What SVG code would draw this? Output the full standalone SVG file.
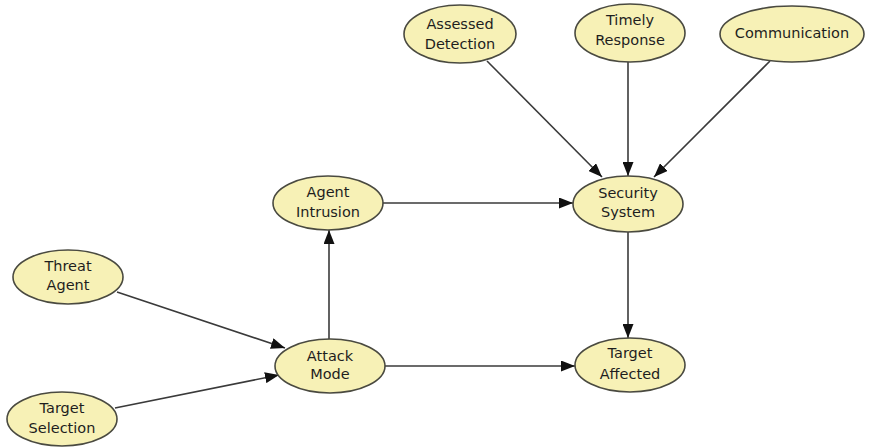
<svg xmlns="http://www.w3.org/2000/svg" width="870" height="448" viewBox="0 0 870 448">
  <defs>
    <marker id="arrow" viewBox="0 0 14 11" refX="14" refY="5.5" markerWidth="14" markerHeight="11" markerUnits="userSpaceOnUse" orient="auto">
      <path d="M0,0 L14,5.5 L0,11 Z" fill="#111"/>
    </marker>
    <style>
      .node ellipse { fill: #f7f1b6; stroke: #4a4a40; stroke-width: 1.6; }
      .node text { font-family: "DejaVu Sans", "Liberation Sans", sans-serif; font-size: 14.5px; fill: #1e1e1e; text-anchor: middle; }
      .edge { stroke: #3a3a3a; stroke-width: 1.6; fill: none; marker-end: url(#arrow); }
    </style>
  </defs>
  <rect width="870" height="448" fill="#fff"/>

  <g id="edges">
    <line class="edge" x1="487" y1="61" x2="602" y2="177"/>
    <line class="edge" x1="628" y1="62" x2="628" y2="176"/>
    <line class="edge" x1="770" y1="61" x2="654" y2="177"/>
    <line class="edge" x1="382" y1="203" x2="573" y2="203"/>
    <line class="edge" x1="628" y1="232" x2="628" y2="338"/>
    <line class="edge" x1="329" y1="339" x2="329" y2="230"/>
    <line class="edge" x1="385" y1="366" x2="575" y2="366"/>
    <line class="edge" x1="117" y1="292" x2="285" y2="348"/>
    <line class="edge" x1="115" y1="408" x2="279" y2="375"/>
  </g>

  <g id="assessed-detection" class="node">
    <ellipse cx="460" cy="34" rx="56" ry="29"/>
    <text x="460" y="29">Assessed</text>
    <text x="460" y="49">Detection</text>
  </g>
  <g id="timely-response" class="node">
    <ellipse cx="630" cy="33" rx="55" ry="29"/>
    <text x="630" y="25">Timely</text>
    <text x="630" y="45">Response</text>
  </g>
  <g id="communication" class="node">
    <ellipse cx="792" cy="34" rx="72" ry="28"/>
    <text x="792" y="38">Communication</text>
  </g>
  <g id="agent-intrusion" class="node">
    <ellipse cx="328" cy="203" rx="55" ry="27"/>
    <text x="328" y="197">Agent</text>
    <text x="328" y="217">Intrusion</text>
  </g>
  <g id="security-system" class="node">
    <ellipse cx="628" cy="204" rx="55" ry="28"/>
    <text x="628" y="198">Security</text>
    <text x="628" y="217">System</text>
  </g>
  <g id="threat-agent" class="node">
    <ellipse cx="68" cy="277" rx="55" ry="27"/>
    <text x="68" y="271">Threat</text>
    <text x="68" y="290">Agent</text>
  </g>
  <g id="attack-mode" class="node">
    <ellipse cx="330" cy="366" rx="55" ry="27"/>
    <text x="330" y="361">Attack</text>
    <text x="330" y="379">Mode</text>
  </g>
  <g id="target-selection" class="node">
    <ellipse cx="62" cy="419" rx="55" ry="27"/>
    <text x="62" y="413">Target</text>
    <text x="62" y="433">Selection</text>
  </g>
  <g id="target-affected" class="node">
    <ellipse cx="630" cy="365" rx="55" ry="27"/>
    <text x="630" y="358">Target</text>
    <text x="630" y="379">Affected</text>
  </g>
</svg>
